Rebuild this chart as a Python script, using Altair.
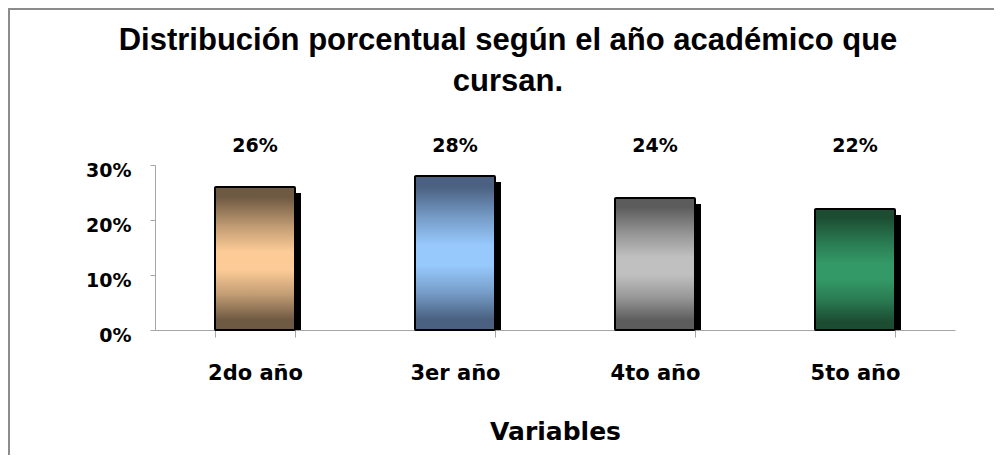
import altair as alt
import pandas as pd

categories = ["2do año", "3er año", "4to año", "5to año"]
values = [0.26, 0.28, 0.24, 0.22]

df = pd.DataFrame({"cat": categories, "pct": values})

# style: (dark, light) per category
palette = {
    "2do año": ("#6e5942", "#fccb96"),
    "3er año": ("#4a6181", "#97c9fd"),
    "4to año": ("#5c5c5c", "#c0c0c0"),
    "5to año": ("#1c4d33", "#339966"),
}


def mix(a, b, t):
    a = [int(a[i:i + 2], 16) for i in (1, 3, 5)]
    b = [int(b[i:i + 2], 16) for i in (1, 3, 5)]
    return "#" + "".join(f"{round(x + (y - x) * t):02x}" for x, y in zip(a, b))


def grad(dark, light):
    stops = [
        (0.0, dark), (0.07, dark), (0.28, mix(dark, light, 0.6)),
        (0.45, light), (0.58, light), (0.75, mix(dark, light, 0.6)),
        (0.93, dark), (1.0, dark),
    ]
    return alt.LinearGradient(
        gradient="linear",
        stops=[alt.GradientStop(offset=o, color=c) for o, c in stops],
        x1=0, x2=0, y1=0, y2=1,
    )


x_enc = alt.X(
    "cat:N",
    sort=categories,
    scale=alt.Scale(paddingInner=0.6, paddingOuter=0.3),
    axis=alt.Axis(
        title="Variables",
        labelAngle=0,
        labelFont="DejaVu Sans",
        labelFontWeight="bold",
        labelFontSize=21,
        labelColor="#000000",
        labelPadding=25,
        tickBand="extent",
        tickSize=7,
        tickColor="#a6a6a6",
        domainColor="#a6a6a6",
        grid=False,
        titleFont="DejaVu Sans",
        titleFontWeight="bold",
        titleFontSize=25,
        titleColor="#000000",
        titlePadding=36,
    ),
)
y_enc = alt.Y(
    "pct:Q",
    scale=alt.Scale(domain=[0, 0.3]),
    axis=alt.Axis(
        title=None,
        values=[0, 0.1, 0.2, 0.3],
        format=".0%",
        grid=False,
        tickSize=5,
        tickColor="#a6a6a6",
        domainColor="#a6a6a6",
        labelFont="DejaVu Sans",
        labelFontWeight="bold",
        labelFontSize=19,
        labelColor="#000000",
        labelPadding=19,
        labelOffset=5,
    ),
)

base = alt.Chart(df)

frame_top = base.mark_rule(stroke="#8c8c8c", strokeWidth=2).encode(
    x=alt.value(-147), x2=alt.value(900), y=alt.value(-156)
)
frame_left = base.mark_rule(stroke="#8c8c8c", strokeWidth=2).encode(
    x=alt.value(-146), y=alt.value(-157), y2=alt.value(400)
)

shadow = base.mark_bar(color="#000000", xOffset=6, yOffset=6, clip=True).encode(
    x=x_enc, y=y_enc
)

layers = [frame_top, frame_left, shadow]
for c in categories:
    dark, light = palette[c]
    layers.append(
        base.transform_filter(alt.datum.cat == c)
        .mark_bar(color=grad(dark, light), stroke="#000000", strokeWidth=2, cornerRadius=1)
        .encode(x=x_enc, y=y_enc)
    )

labels = base.mark_text(
    font="DejaVu Sans", fontWeight="bold", fontSize=19, baseline="alphabetic", color="#000000"
).encode(x=x_enc, y=alt.datum(0.3236), text=alt.Text("pct:Q", format=".0%"))
layers.append(labels)

chart = (
    alt.layer(*layers)
    .properties(
        width=800,
        height=165,
        view=alt.ViewBackground(stroke="transparent", strokeWidth=0),
        autosize=alt.AutoSizeParams(type="none"),
        padding={"left": 147, "top": 157, "right": 39, "bottom": 125},
        title=alt.TitleParams(
            text=["Distribución porcentual según el año académico que", "cursan."],
            font="Liberation Sans",
            fontSize=31,
            fontWeight="bold",
            color="#000000",
            anchor="middle",
            baseline="alphabetic",
            dx=-47,
            dy=119,
            lineHeight=41,
        ),
    )
    .configure_view(stroke="transparent", strokeWidth=0)
    .configure_axis(grid=False)
    .configure(background="#ffffff")
)

chart.save("out.html", embed_options={"renderer": "svg", "actions": False})
